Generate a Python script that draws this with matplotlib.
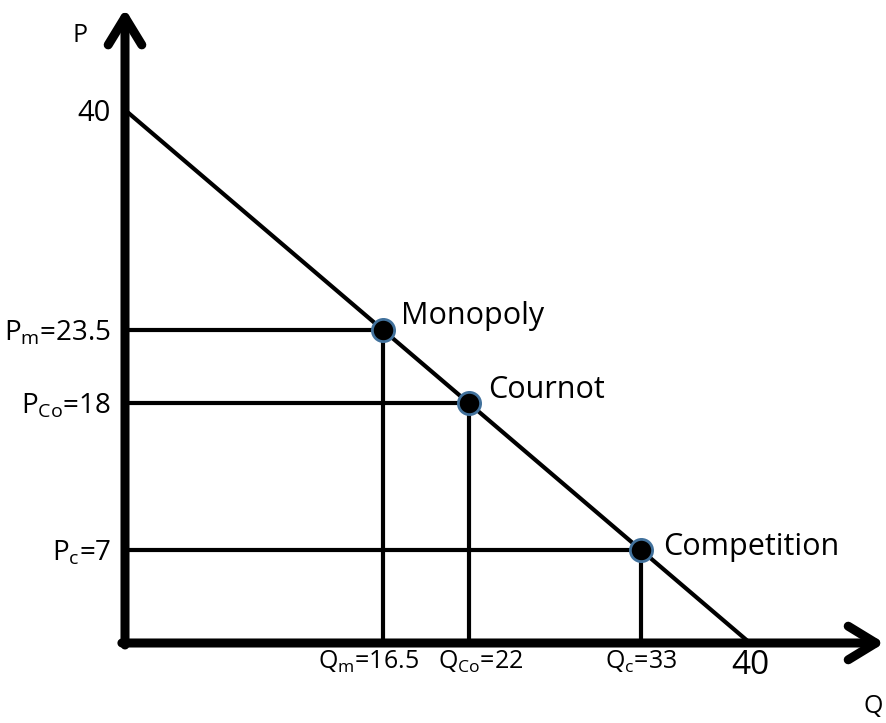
import matplotlib
matplotlib.use("Agg")
import matplotlib.pyplot as plt
from matplotlib.transforms import ScaledTranslation

plt.rcParams['font.family'] = ['Open Sans', 'DejaVu Sans']
plt.rcParams['mathtext.fontset'] = 'custom'
plt.rcParams['mathtext.rm'] = 'Open Sans'
plt.rcParams['mathtext.it'] = 'Open Sans'

# linear demand P = 40 - Q
demand_q = [0, 40]
demand_p = [40, 0]

# equilibrium outcomes
names = ["Monopoly", "Cournot", "Competition"]
q_vals = [16.5, 22, 33]
p_vals = [23.5, 18, 7]
q_labels = [r"Q$_\mathrm{m}$=16.5", r"Q$_\mathrm{Co}$=22", r"Q$_\mathrm{c}$=33", "40"]
p_labels = ["40", r"P$_\mathrm{m}$=23.5", r"P$_\mathrm{Co}$=18", r"P$_\mathrm{c}$=7"]

fig = plt.figure(figsize=(8.87, 7.23), dpi=100)
ax = fig.add_axes([125 / 887, 80 / 723, 625 / 887, 533 / 723])
ax.set_xlim(0, 40)
ax.set_ylim(0, 40)
for s in ax.spines.values():
    s.set_visible(False)

# axes with arrow heads
arrow = dict(arrowstyle="->,head_length=0.9,head_width=0.55", lw=6.5, color="black",
             capstyle="round", joinstyle="round", mutation_scale=22,
             shrinkA=0, shrinkB=0)
ax.annotate("", xy=(0, 47.6), xytext=(0, -0.15), annotation_clip=False, arrowprops=arrow)
ax.annotate("", xy=(48.6, 0), xytext=(-0.2, 0), annotation_clip=False, arrowprops=arrow)

ax.plot(demand_q, demand_p, color="black", lw=3, solid_capstyle="butt", clip_on=False)

for name, q, p in zip(names, q_vals, p_vals):
    ax.plot([0, q], [p, p], color="black", lw=3, clip_on=False)
    ax.plot([q, q], [0, p], color="black", lw=3, clip_on=False)

# point markers and their names (text offsets in points)
for name, q, p, off in zip(names, q_vals, p_vals, [(13, 4), (14, 4), (16, -4)]):
    ax.plot(q, p, "o", ms=16, mfc="black", mec="#41719c", mew=2, clip_on=False, zorder=5)
    ax.annotate(name, (q, p), xytext=off, textcoords="offset points",
                fontsize=22, ha="left", va="baseline")

ax.set_xticks([16.5, 22, 33, 40], q_labels)
ax.set_yticks([40, 23.5, 18, 7], p_labels)
ax.tick_params(axis="both", length=0)
ax.tick_params(axis="x", pad=4, labelsize=18)
ax.tick_params(axis="y", pad=10, labelsize=20)
xl = ax.get_xticklabels()
xl[-1].set_fontsize(24)
ax.get_yticklabels()[0].set_fontsize(21)

# Qm and QCo sit close together, nudge them apart
for lab, dx in [(xl[0], -14), (xl[1], 12)]:
    lab.set_transform(lab.get_transform() + ScaledTranslation(dx / 100, 0, fig.dpi_scale_trans))

ax.text(-2.9, 45.6, "P", fontsize=18, ha="center", va="center")
ax.text(47.9, -4.8, "Q", fontsize=18, ha="center", va="center")

fig.savefig("out.png", dpi=100)
